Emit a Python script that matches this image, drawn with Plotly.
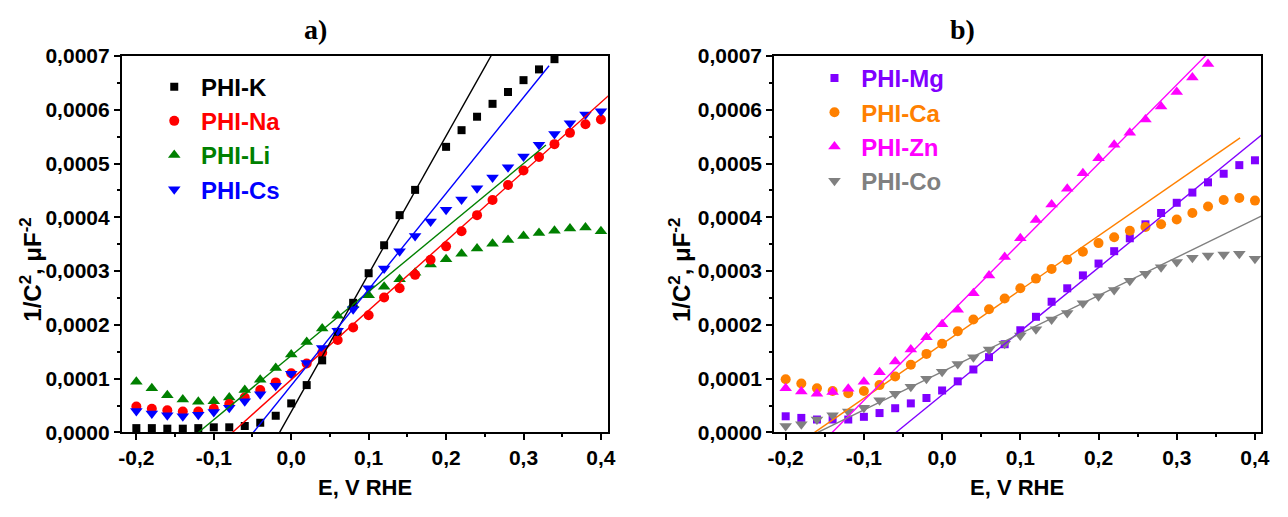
import plotly.graph_objects as go

# Electrode potential (V vs RHE)
potential = [-0.20, -0.18, -0.16, -0.14, -0.12, -0.10, -0.08, -0.06, -0.04, -0.02,
             0.00, 0.02, 0.04, 0.06, 0.08, 0.10, 0.12, 0.14, 0.16, 0.18,
             0.20, 0.22, 0.24, 0.26, 0.28, 0.30, 0.32, 0.34, 0.36, 0.38, 0.40]

# Mott-Schottky data, 1/C^2 (uF^-2) - alkali PHI samples
phi_k = [8e-6, 8e-6, 7e-6, 7e-6, 8e-6, 9.5e-6, 9.5e-6, 1.2e-5, 1.8e-5, 3.1e-5,
         5.4e-5, 8.8e-5, 1.34e-4, 1.87e-4, 2.41e-4, 2.96e-4, 3.48e-4, 4.04e-4, 4.51e-4, None,
         5.31e-4, 5.62e-4, 5.87e-4, 6.11e-4, 6.33e-4, 6.55e-4, 6.75e-4, 6.94e-4, None, None, None]
phi_na = [4.8e-5, 4.4e-5, 4.1e-5, 3.9e-5, 3.9e-5, 4.4e-5, 5.3e-5, 6.5e-5, 7.9e-5, 9.3e-5,
          1.10e-4, 1.28e-4, 1.48e-4, 1.72e-4, 1.95e-4, 2.18e-4, 2.51e-4, 2.68e-4, 2.93e-4, 3.21e-4,
          3.46e-4, 3.74e-4, 4.04e-4, 4.32e-4, 4.60e-4, 4.87e-4, 5.12e-4, 5.36e-4, 5.57e-4, 5.73e-4, 5.82e-4]
phi_li = [9.4e-5, 8.2e-5, 6.9e-5, 6.1e-5, 5.7e-5, 5.8e-5, 6.5e-5, 7.9e-5, 9.8e-5, 1.20e-4,
          1.45e-4, 1.68e-4, 1.93e-4, 2.17e-4, 2.37e-4, 2.55e-4, 2.71e-4, 2.85e-4, 2.97e-4, 3.12e-4,
          3.22e-4, 3.32e-4, 3.42e-4, 3.51e-4, 3.58e-4, 3.65e-4, 3.71e-4, 3.75e-4, 3.79e-4, 3.81e-4, 3.74e-4]
phi_cs = [4.0e-5, 3.5e-5, 3.2e-5, 3.0e-5, 3.3e-5, 3.8e-5, 4.6e-5, 5.8e-5, 7.1e-5, 8.7e-5,
          1.09e-4, 1.29e-4, 1.57e-4, 1.89e-4, 2.29e-4, 2.68e-4, 3.05e-4, 3.37e-4, 3.65e-4, 3.92e-4,
          4.14e-4, 4.33e-4, 4.54e-4, 4.74e-4, 4.93e-4, 5.13e-4, 5.35e-4, 5.55e-4, 5.75e-4, 5.91e-4, 5.97e-4]

# Mott-Schottky data, 1/C^2 (uF^-2) - divalent PHI samples
phi_mg = [3.0e-5, 2.7e-5, 2.4e-5, 2.4e-5, 2.4e-5, 2.9e-5, 3.6e-5, 4.5e-5, 5.4e-5, 6.4e-5,
          7.8e-5, 9.5e-5, 1.17e-4, 1.40e-4, 1.64e-4, 1.90e-4, 2.15e-4, 2.43e-4, 2.68e-4, 2.92e-4,
          3.14e-4, 3.37e-4, 3.61e-4, 3.87e-4, 4.08e-4, 4.27e-4, 4.46e-4, 4.65e-4, 4.81e-4, 4.97e-4, 5.06e-4]
phi_ca = [9.9e-5, 9.1e-5, 8.2e-5, 7.7e-5, 7.3e-5, 7.7e-5, 8.8e-5, 1.04e-4, 1.26e-4, 1.46e-4,
          1.65e-4, 1.88e-4, 2.10e-4, 2.29e-4, 2.49e-4, 2.68e-4, 2.86e-4, 3.04e-4, 3.21e-4, 3.36e-4,
          3.52e-4, 3.63e-4, 3.75e-4, 3.82e-4, 3.87e-4, 3.96e-4, 4.08e-4, 4.20e-4, 4.32e-4, 4.36e-4, 4.31e-4]
phi_zn = [8.2e-5, 7.6e-5, 7.2e-5, 7.5e-5, 8.1e-5, 9.4e-5, 1.12e-4, 1.32e-4, 1.54e-4, 1.77e-4,
          2.01e-4, 2.28e-4, 2.59e-4, 2.92e-4, 3.26e-4, 3.61e-4, 3.95e-4, 4.24e-4, 4.53e-4, 4.82e-4,
          5.10e-4, 5.35e-4, 5.57e-4, 5.82e-4, 6.06e-4, 6.33e-4, 6.60e-4, 6.85e-4, None, None, None]
phi_co = [1.2e-5, 1.5e-5, 2.4e-5, 3.2e-5, 3.9e-5, 4.6e-5, 6.0e-5, 7.2e-5, 8.5e-5, 1.00e-4,
          1.13e-4, 1.27e-4, 1.40e-4, 1.54e-4, 1.65e-4, 1.80e-4, 1.92e-4, 2.10e-4, 2.22e-4, 2.40e-4,
          2.53e-4, 2.65e-4, 2.82e-4, 2.95e-4, 3.07e-4, 3.17e-4, 3.25e-4, 3.29e-4, 3.31e-4, 3.32e-4, 3.23e-4]

# Linear fits: flat-band potential (x-intercept), slope, end of fitted segment
fit_a = {
    "PHI-K": (-0.015, 2.564e-3, 0.26),
    "PHI-Na": (-0.076, 1.289e-3, 0.42),
    "PHI-Li": (-0.120, 1.190e-3, 0.329),
    "PHI-Cs": (-0.049, 1.785e-3, 0.333),
}
fit_b = {
    "PHI-Mg": (-0.059, 1.183e-3, 0.42),
    "PHI-Ca": (-0.163, 1.007e-3, 0.381),
    "PHI-Zn": (-0.1406, 1.467e-3, 0.337),
    "PHI-Co": (-0.159, 7.09e-4, 0.42),
}

x_ticks = [-0.2, -0.1, 0.0, 0.1, 0.2, 0.3, 0.4]
x_tick_labels = ["-0,2", "-0,1", "0,0", "0,1", "0,2", "0,3", "0,4"]
x_minor = [-0.15, -0.05, 0.05, 0.15, 0.25, 0.35]
y_ticks = [0.0, 0.0001, 0.0002, 0.0003, 0.0004, 0.0005, 0.0006, 0.0007]
y_tick_labels = ["0,0000", "0,0001", "0,0002", "0,0003", "0,0004", "0,0005", "0,0006", "0,0007"]
y_minor = [0.00005, 0.00015, 0.00025, 0.00035, 0.00045, 0.00055, 0.00065]

SANS = "Liberation Sans, Arial, sans-serif"
W, H = 1288, 517

fig = go.Figure()

# (name, values, colour, symbol, size, legend rank) in drawing order
series_a = [
    ("PHI-Li", phi_li, "#008000", "triangle-up", 11, 3),
    ("PHI-Na", phi_na, "#FF0000", "circle", 10, 2),
    ("PHI-K", phi_k, "#000000", "square", 8, 1),
    ("PHI-Cs", phi_cs, "#0000FF", "triangle-down", 11, 4),
]
series_b = [
    ("PHI-Mg", phi_mg, "#8000FF", "square", 8, 1),
    ("PHI-Ca", phi_ca, "#FF8000", "circle", 10, 2),
    ("PHI-Zn", phi_zn, "#FF00FF", "triangle-up", 11, 3),
    ("PHI-Co", phi_co, "#808080", "triangle-down", 11, 4),
]


def add_panel(series, fits, xa, ya, legend):
    for name, vals, color, symbol, size, rank in series:
        fig.add_trace(go.Scatter(
            x=potential, y=vals, mode="markers", xaxis=xa, yaxis=ya,
            name=f"<span style='color:{color}'> {name}</span>",
            legend=legend, legendrank=rank, cliponaxis=False,
            marker=dict(symbol=symbol, size=size, color=color, line=dict(width=0)),
        ))
    for name, vals, color, symbol, size, rank in series:
        e0, slope, x_end = fits[name]
        fig.add_trace(go.Scatter(
            x=[e0, x_end], y=[0.0, slope * (x_end - e0)], mode="lines",
            xaxis=xa, yaxis=ya, showlegend=False,
            line=dict(color=color, width=1.4),
        ))


add_panel(series_a, fit_a, "x", "y", "legend")
add_panel(series_b, fit_b, "x2", "y2", "legend2")

tickfont = dict(family=SANS, size=21, color="black", weight="bold")


def x_axis(domain, rng, anchor):
    return dict(domain=domain, range=rng, anchor=anchor, tickmode="array",
                tickvals=x_ticks, ticktext=x_tick_labels, ticks="outside",
                ticklen=6, tickwidth=1.5, tickcolor="black", showline=True,
                linecolor="black", linewidth=1.5, mirror=True, showgrid=False,
                zeroline=False, tickfont=tickfont,
                minor=dict(tickmode="array", tickvals=x_minor, ticks="outside",
                           ticklen=3, tickwidth=1.5, tickcolor="black", showgrid=False))


def y_axis(domain, anchor):
    return dict(domain=domain, range=[0, 0.0007], anchor=anchor, tickmode="array",
                tickvals=y_ticks, ticktext=y_tick_labels, ticks="outside",
                ticklen=6, tickwidth=1.5, tickcolor="black", showline=True,
                linecolor="black", linewidth=1.5, mirror=True, showgrid=False,
                zeroline=False, tickfont=tickfont,
                minor=dict(tickmode="array", tickvals=y_minor, ticks="outside",
                           ticklen=3, tickwidth=1.5, tickcolor="black", showgrid=False))


y_dom = [(H - 440) / H, (H - 46) / H]
legend_font = dict(family=SANS, size=24, color="black", weight="bold")

fig.update_layout(
    width=W, height=H, margin=dict(l=0, r=0, t=0, b=0),
    paper_bgcolor="white", plot_bgcolor="white",
    xaxis=x_axis([117 / W, 609 / W], [-0.219, 0.409], "y"),
    yaxis=y_axis(y_dom, "x"),
    xaxis2=x_axis([777 / W, 1270 / W], [-0.215, 0.408], "y2"),
    yaxis2=y_axis(y_dom, "x2"),
    legend=dict(x=150 / W, y=(H - 55) / H, xanchor="left", yanchor="top",
                font=legend_font, bgcolor="rgba(0,0,0,0)", tracegroupgap=0),
    legend2=dict(x=818 / W, y=(H - 46) / H, xanchor="left", yanchor="top",
                 font=legend_font, bgcolor="rgba(0,0,0,0)", tracegroupgap=0),
    showlegend=True,
)

title_font = dict(family="Liberation Serif, serif", size=28, color="black")
label_font = dict(family=SANS, size=22, color="black")
ytitle_font = dict(family=SANS, size=24, color="black")

annotations = [
    dict(text="<b>a)</b>", x=313 / W, y=(H - 18) / H, font=title_font),
    dict(text="<b>b)</b>", x=968 / W, y=(H - 18) / H, font=title_font),
    dict(text="<b>E, V RHE</b>", x=363 / W, y=(H - 498) / H, font=label_font),
    dict(text="<b>E, V RHE</b>", x=1023 / W, y=(H - 498) / H, font=label_font),
    dict(text="<b>1/C<sup>2</sup>, μF<sup>-2</sup></b>", x=25 / W, y=(H - 270) / H,
         font=ytitle_font, textangle=-90),
    dict(text="<b>1/C<sup>2</sup>, μF<sup>-2</sup></b>", x=682 / W, y=(H - 270) / H,
         font=ytitle_font, textangle=-90),
]
for a in annotations:
    a.update(xref="paper", yref="paper", showarrow=False,
             xanchor="center", yanchor="middle")
fig.update_layout(annotations=annotations)

fig.write_html("out.html")
